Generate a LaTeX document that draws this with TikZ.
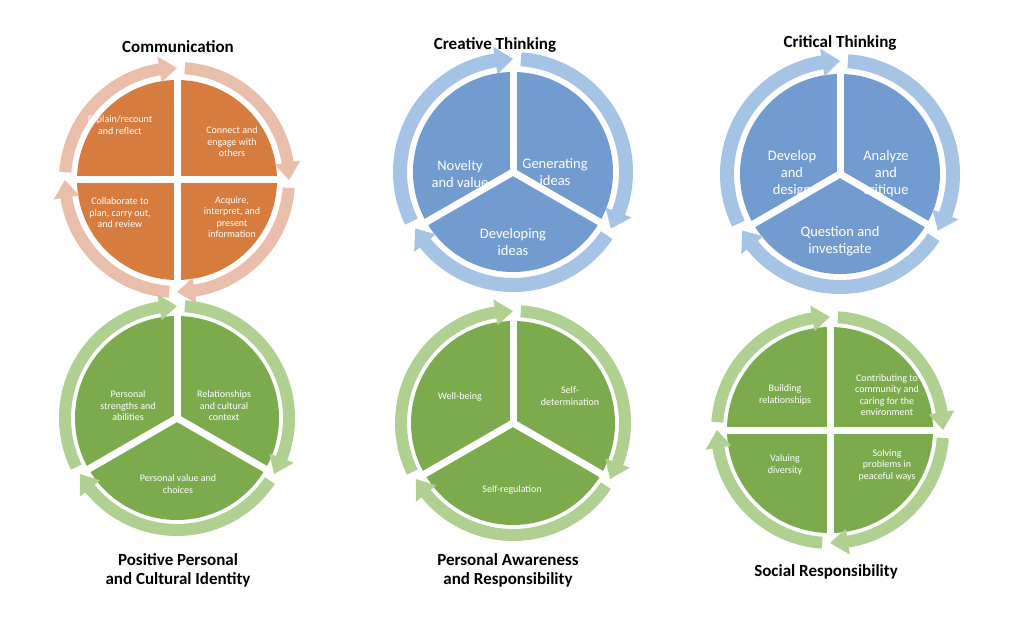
\documentclass[tikz,border=0pt]{standalone}
\usepackage{fontspec}
\setmainfont{Carlito}
\usetikzlibrary{calc}
\definecolor{org}{RGB}{214,124,62}
\definecolor{orgl}{RGB}{233,190,170}
\definecolor{blu}{RGB}{114,155,208}
\definecolor{blul}{RGB}{165,195,228}
\definecolor{grn}{RGB}{124,171,78}
\definecolor{grnl}{RGB}{176,208,146}
\newcommand\rarrow[6]{%
\fill[#6] ($(#1)+(#4:{#2+#3/2})$) arc[start angle=#4,end angle={#5+9},radius={(#2+#3/2)*1pt}] -- ($(#1)+({#5+9}:{#2+#3/2+7})$) -- ($(#1)+(#5:#2)$) -- ($(#1)+({#5+9}:{#2-#3/2-7})$) -- ($(#1)+({#5+9}:{#2-#3/2})$) arc[start angle={#5+9},end angle=#4,radius={(#2-#3/2)*1pt}] -- cycle;}
\newcommand\pie[4]{% center, radius, color, list of divider angles
\fill[#3] (#1) circle[radius=#2*1pt];
\foreach \a in {#4} {\draw[white,line width=7pt] (#1) -- ++(\a:{#2+3});}}
\begin{document}
\begin{tikzpicture}[x=1pt,y=1pt,
  title/.style={font=\bfseries\fontsize{17}{19}\selectfont,align=center},
  lab/.style={white,align=center,font=\fontsize{10}{11.5}\selectfont},
  blab/.style={white,align=center,font=\fontsize{14.5}{17}\selectfont}]
\useasboundingbox (0,0) rectangle (1024,622);
\fill[white] (0,0) rectangle (1024,622);
% centers
\coordinate (c1) at (177,442);
\coordinate (c2) at (513,450);
\coordinate (c3) at (840,448);
\coordinate (c4) at (177,204);
\coordinate (c5) at (513,199);
\coordinate (c6) at (830,192);
% Communication
\pie{c1}{100}{org}{0,90,180,270}
\rarrow{c1}{112}{12}{176}{90}{orgl}
\rarrow{c1}{112}{12}{86}{0}{orgl}
\rarrow{c1}{112}{12}{-4}{-90}{orgl}
\rarrow{c1}{112}{12}{-94}{-180}{orgl}
\node[lab] (t11) at ($(c1)+(-57,55)$) {Explain/recount\\and reflect};
\node[lab] (t12) at ($(c1)+(55,38)$) {Connect and\\engage with\\others};
\node[lab] (t13) at ($(c1)+(-57,-33)$) {Collaborate to\\plan, carry out,\\and review};
\node[lab] (t14) at ($(c1)+(55,-37)$) {Acquire,\\interpret, and\\present\\information};
\node[title] (h1) at (178,575) {Communication};
% Creative
\pie{c2}{100}{blu}{90,-30,210}
\rarrow{c2}{113}{14}{206}{90}{blul}
\rarrow{c2}{113}{14}{86}{-30}{blul}
\rarrow{c2}{113}{14}{-34}{-150}{blul}
\node[blab] (t21) at ($(c2)+(-53,-2)$) {Novelty\\and value};
\node[blab] (t22) at ($(c2)+(42,0)$) {Generating\\ideas};
\node[blab] (t23) at ($(c2)+(0,-70)$) {Developing\\ideas};
\node[title] (h2) at (495,577) {Creative Thinking};
% Critical
\pie{c3}{100}{blu}{90,-30,210}
\rarrow{c3}{113}{14}{206}{90}{blul}
\rarrow{c3}{113}{14}{86}{-30}{blul}
\rarrow{c3}{113}{14}{-34}{-150}{blul}
\node[blab] (t31) at ($(c3)+(-48,0)$) {Develop\\and\\design};
\node[blab] (t32) at ($(c3)+(46,0)$) {Analyze\\and\\critique};
\node[blab] (t33) at ($(c3)+(0,-67)$) {Question and\\investigate};
\node[title] (h3) at (840,579) {Critical Thinking};
% Positive personal
\pie{c4}{102}{grn}{90,-30,210}
\rarrow{c4}{112}{12}{206}{90}{grnl}
\rarrow{c4}{112}{12}{86}{-30}{grnl}
\rarrow{c4}{112}{12}{-34}{-150}{grnl}
\node[lab] (t41) at ($(c4)+(-49,12)$) {Personal\\strengths and\\abilities};
\node[lab] (t42) at ($(c4)+(47,12)$) {Relationships\\and cultural\\context};
\node[lab] (t43) at ($(c4)+(1,-66)$) {Personal value and\\choices};
\node[title] (h4) at (178,52) {Positive Personal\\and Cultural Identity};
% Personal awareness
\pie{c5}{102}{grn}{90,-30,210}
\rarrow{c5}{112}{12}{206}{90}{grnl}
\rarrow{c5}{112}{12}{86}{-30}{grnl}
\rarrow{c5}{112}{12}{-34}{-150}{grnl}
\node[lab] (t51) at ($(c5)+(-53,26)$) {Well-being};
\node[lab] (t52) at ($(c5)+(57,27)$) {Self-\\determination};
\node[lab] (t53) at ($(c5)+(-1,-67)$) {Self-regulation};
\node[title] (h5) at (508,52) {Personal Awareness\\and Responsibility};
% Social
\pie{c6}{103}{grn}{0,90,180,270}
\rarrow{c6}{113}{12}{176}{90}{grnl}
\rarrow{c6}{113}{12}{86}{0}{grnl}
\rarrow{c6}{113}{12}{-4}{-90}{grnl}
\rarrow{c6}{113}{12}{-94}{-180}{grnl}
\node[lab] (t61) at ($(c6)+(-45,35)$) {Building\\relationships};
\node[lab] (t62) at ($(c6)+(57,35)$) {Contributing to\\community and\\caring for the\\environment};
\node[lab] (t63) at ($(c6)+(-45,-35)$) {Valuing\\diversity};
\node[lab] (t64) at ($(c6)+(57,-35)$) {Solving\\problems in\\peaceful ways};
\node[title] (h6) at (826,50) {Social Responsibility};
\end{tikzpicture}
\end{document}
